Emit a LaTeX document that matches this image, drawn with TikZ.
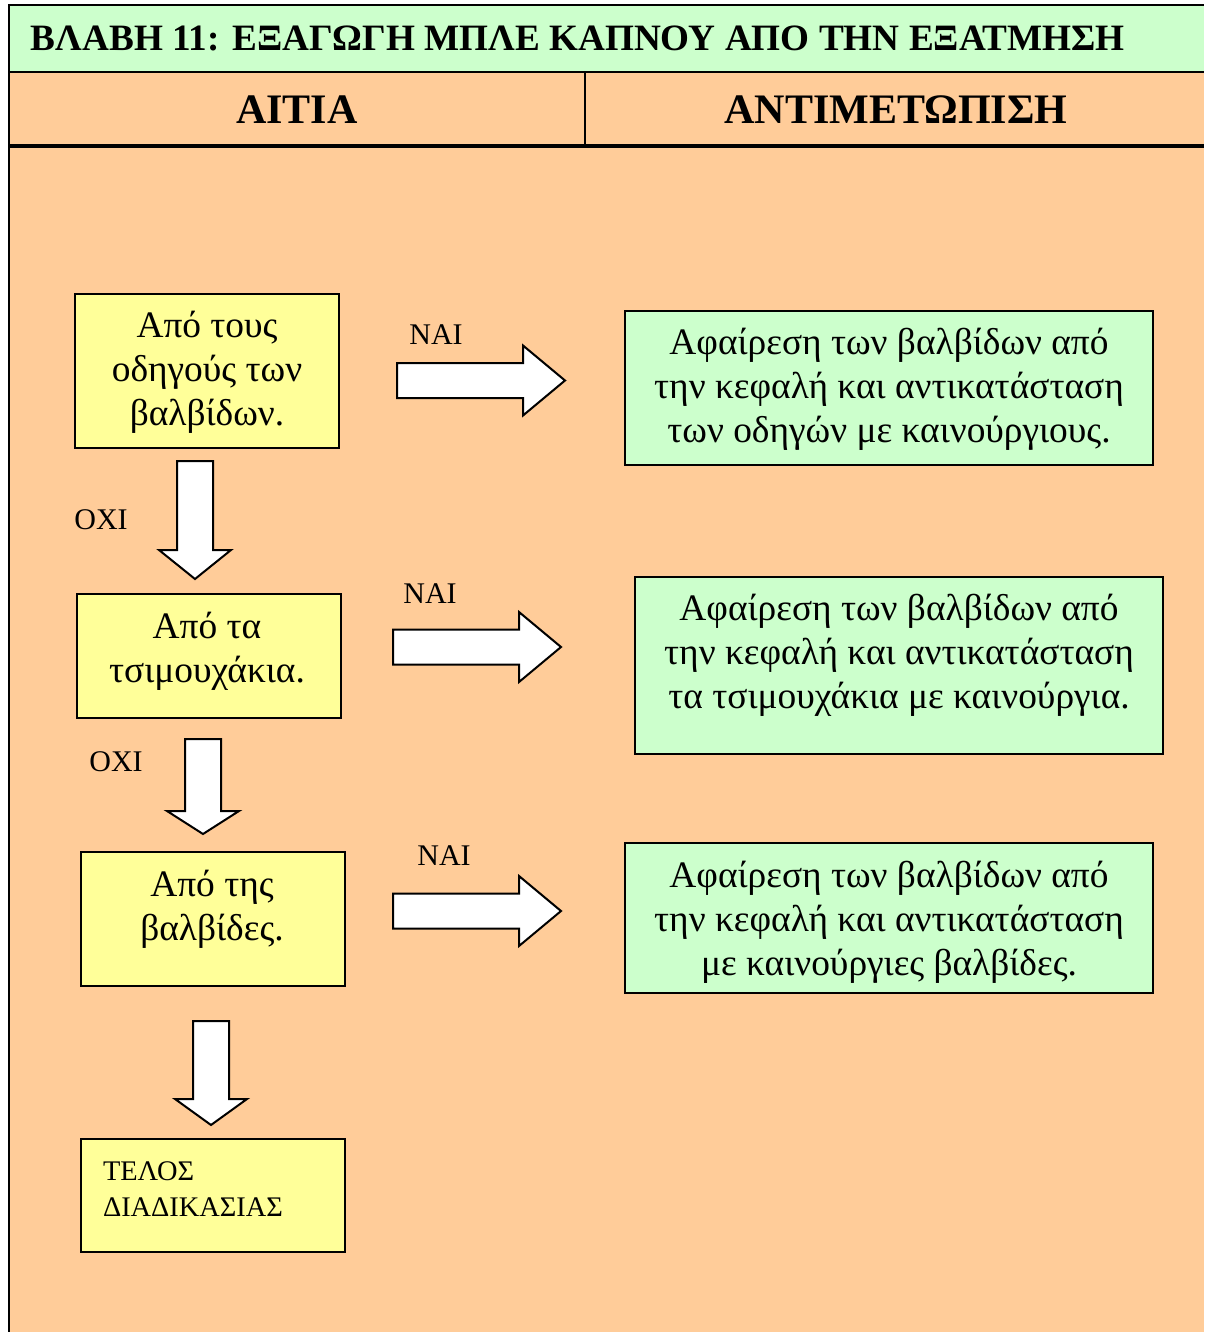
\documentclass[tikz,border=0pt]{standalone}
\usepackage{fontspec}
\setmainfont{Liberation Serif}
\definecolor{mintgreen}{HTML}{CCFFCC}
\definecolor{peach}{HTML}{FFCC99}
\definecolor{paleyellow}{HTML}{FFFF99}
\tikzset{
    boxtxt/.style={align=center, inner sep=0pt, font=\fontsize{18.7}{22}\selectfont},
    tag/.style={inner sep=0pt, font=\fontsize{15}{18}\selectfont},
    blockarrow/.style={fill=white, draw=black, line width=1pt, line join=miter}
}
% block arrows: tail point, shaft length, head length
\newcommand{\blockright}[3]{%
    \filldraw[blockarrow] (#1) ++(0,-17.5) -- ++(#2,0) -- ++(0,-17.5) -- ++(#3,35)
        -- ++(-#3,35) -- ++(0,-17.5) -- ++(-#2,0) -- cycle;}
\newcommand{\blockdown}[3]{%
    \filldraw[blockarrow] (#1) ++(-18,0) -- ++(0,#2) -- ++(-18,0) -- ++(36,#3)
        -- ++(36,-#3) -- ++(-18,0) -- ++(0,-#2) -- cycle;}
\begin{document}
\begin{tikzpicture}[x=0.5pt,y=-0.5pt,line width=1pt]
            \useasboundingbox (0,0) rectangle (1204,1332);
            % header bands
            \fill[mintgreen] (9,5) rectangle (1204,72);
            \fill[peach] (9,72) rectangle (1204,1332);
            \draw (9,1332) -- (9,5) -- (1204,5);
            \draw (9,72) -- (1204,72);
            \draw (585,72) -- (585,146);
            \draw[line width=1.6pt] (9,146) -- (1204,146);
            \node[anchor=west, inner sep=0pt, font=\bfseries\fontsize{18.6}{22}\selectfont] (title) at (30,38)
                {ΒΛΑΒΗ 11: ΕΞΑΓΩΓΗ ΜΠΛΕ ΚΑΠΝΟΥ ΑΠΟ ΤΗΝ ΕΞΑΤΜΗΣΗ};
            \node[inner sep=0pt, font=\bfseries\fontsize{21}{24}\selectfont] (cause) at (297,110) {ΑΙΤΙΑ};
            \node[inner sep=0pt, font=\bfseries\fontsize{21}{24}\selectfont] (remedy) at (896,110) {ΑΝΤΙΜΕΤΩΠΙΣΗ};
            % causes
            \begin{scope}[fill=paleyellow]
                \filldraw (75,294) rectangle (339,448);
                \filldraw (77,594) rectangle (341,718);
                \filldraw (81,852) rectangle (345,986);
                \filldraw (81,1139) rectangle (345,1252);
                \node[boxtxt] (guides) at (207,372) {Από τους\\οδηγούς των\\βαλβίδων.};
                \node[boxtxt] (seals) at (207,651) {Από τα\\τσιμουχάκια.};
                \node[boxtxt] (valves) at (212,909) {Από της\\βαλβίδες.};
                \node[tag, align=left, anchor=west, font=\fontsize{14.2}{18}\selectfont] (finish) at (102,1189) {ΤΕΛΟΣ\\ΔΙΑΔΙΚΑΣΙΑΣ};
            \end{scope}
            % remedies
            \begin{scope}[fill=mintgreen]
                \filldraw (625,311) rectangle (1153,465);
                \filldraw (635,577) rectangle (1163,754);
                \filldraw (625,843) rectangle (1153,993);
                \node[boxtxt] (fixguides) at (889,389) {Αφαίρεση των βαλβίδων από\\την κεφαλή και αντικατάσταση\\των οδηγών με καινούργιους.};
                \node[boxtxt] (fixseals) at (899,655) {Αφαίρεση των βαλβίδων από\\την κεφαλή και αντικατάσταση\\τα τσιμουχάκια με καινούργια.};
                \node[boxtxt] (fixvalves) at (889,922) {Αφαίρεση των βαλβίδων από\\την κεφαλή και αντικατάσταση\\με καινούργιες βαλβίδες.};
            \end{scope}
            % yes / no arrows
            \blockright{397,380.5}{126}{42}
            \blockright{393,647}{126}{42}
            \blockright{393,911}{126}{42}
            \blockdown{195,461}{89}{29}
            \blockdown{203,739}{72}{23}
            \blockdown{211,1021}{78}{26}
            \node[tag] (yes1) at (436,335) {ΝΑΙ};
            \node[tag] (yes2) at (430,594) {ΝΑΙ};
            \node[tag] (yes3) at (444,856) {ΝΑΙ};
            \node[tag] (no1) at (101,520) {ΟΧΙ};
            \node[tag] (no2) at (116,762) {ΟΧΙ};
        \end{tikzpicture}
\end{document}
